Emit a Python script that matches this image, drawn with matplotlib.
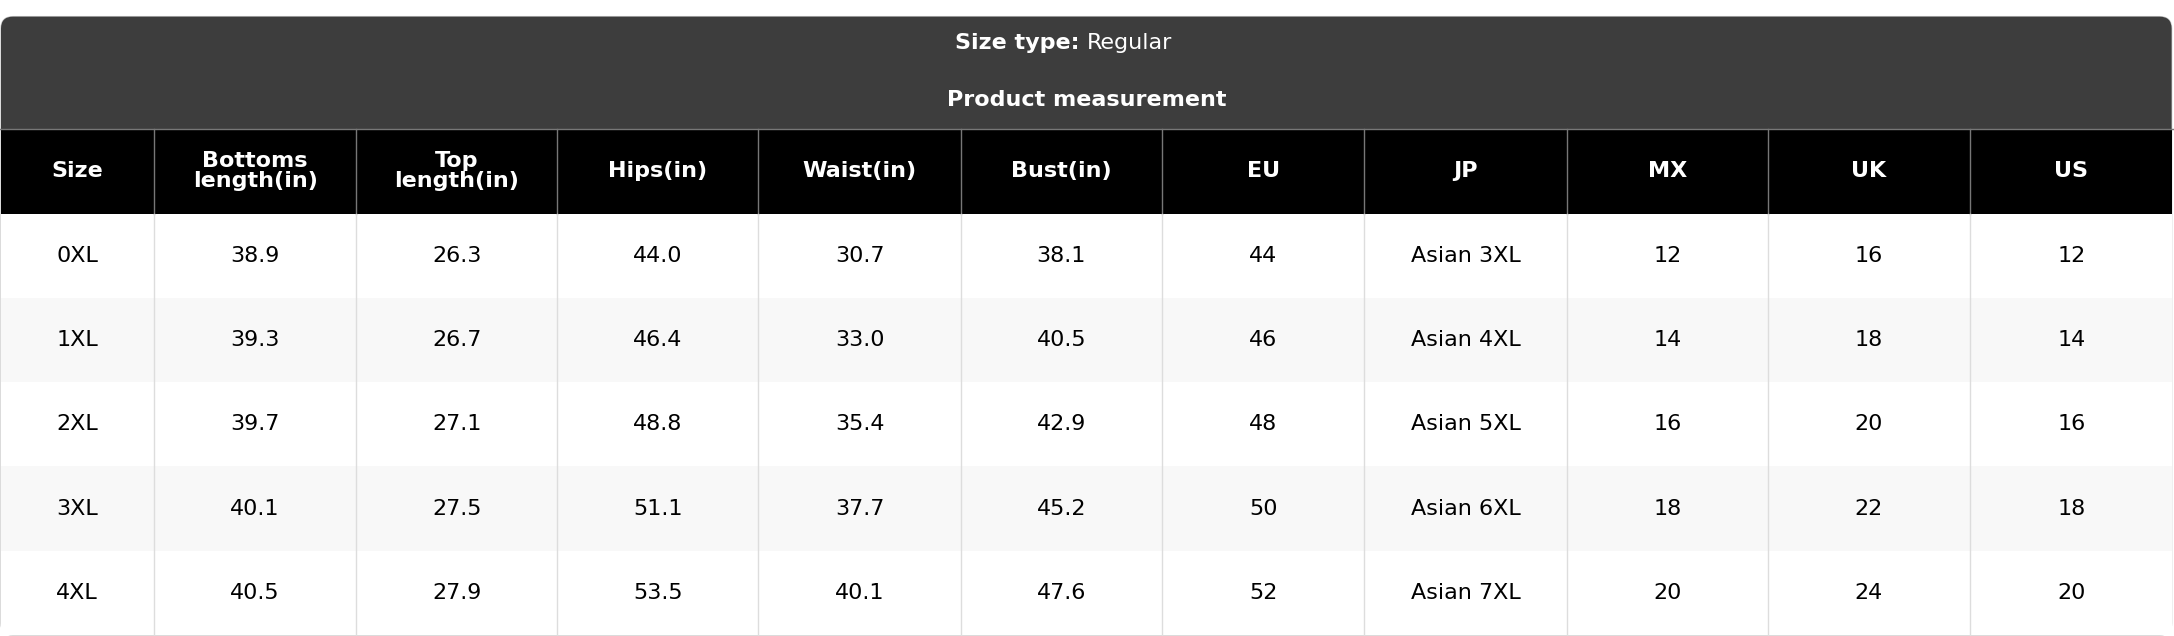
import matplotlib
matplotlib.use("Agg")
import matplotlib.pyplot as plt
from matplotlib.patches import FancyBboxPatch, Rectangle

columns = ["Size", "Bottoms\nlength(in)", "Top\nlength(in)", "Hips(in)", "Waist(in)", "Bust(in)", "EU", "JP", "MX", "UK", "US"]
sizes = ["0XL", "1XL", "2XL", "3XL", "4XL"]
bottoms = ["38.9", "39.3", "39.7", "40.1", "40.5"]
top = ["26.3", "26.7", "27.1", "27.5", "27.9"]
hips = ["44.0", "46.4", "48.8", "51.1", "53.5"]
waist = ["30.7", "33.0", "35.4", "37.7", "40.1"]
bust = ["38.1", "40.5", "42.9", "45.2", "47.6"]
eu = ["44", "46", "48", "50", "52"]
jp = ["Asian 3XL", "Asian 4XL", "Asian 5XL", "Asian 6XL", "Asian 7XL"]
mx = ["12", "14", "16", "18", "20"]
uk = ["16", "18", "20", "22", "24"]
us = ["12", "14", "16", "18", "20"]

W, H = 2174, 636
fig = plt.figure(figsize=(W/100, H/100), dpi=100)
ax = fig.add_axes([0, 0, 1, 1])
ax.set_xlim(0, W); ax.set_ylim(H, 0); ax.axis("off")
s = W/1568
xb = [v*s for v in [0, 111, 257, 402, 547, 693, 838, 984, 1130, 1275, 1421, 1567]]
top_y, hdr_y, col_y, bot_y = 12*s, 93*s, 154*s, 458*s
rh = (bot_y-col_y)/5

# outer rounded box
ax.add_patch(FancyBboxPatch((xb[0]+1, top_y), xb[-1]-xb[0]-2, bot_y-top_y,
             boxstyle="round,pad=0,rounding_size=12", fc="white", ec="#cccccc", lw=1, zorder=0))
ax.add_patch(FancyBboxPatch((xb[0]+1, top_y), xb[-1]-xb[0]-2, hdr_y-top_y+15,
             boxstyle="round,pad=0,rounding_size=12", fc="#3d3d3d", ec="none", zorder=1))
ax.add_patch(Rectangle((xb[0]+1, hdr_y), xb[-1]-xb[0]-2, col_y-hdr_y, fc="black", ec="none", zorder=2))
for i in range(5):
    fc = "white" if i % 2 == 0 else "#f8f8f8"
    ax.add_patch(Rectangle((xb[0]+1, col_y+i*rh), xb[-1]-xb[0]-2, rh, fc=fc, ec="none", zorder=2))
for x in xb[1:-1]:
    ax.plot([x, x], [hdr_y, col_y], color="#777777", lw=1, zorder=3)
    ax.plot([x, x], [col_y, bot_y], color="#dddddd", lw=1, zorder=3)
ax.plot([0, W], [hdr_y, hdr_y], color="#777777", lw=1, zorder=3)

cx = W/2
ax.text(cx, 31*s, "Size type: ", ha="right", va="center", color="white", fontsize=16, fontweight="bold", zorder=4)
ax.text(cx, 31*s, "Regular", ha="left", va="center", color="white", fontsize=16, zorder=4)
ax.text(cx, 72*s, "Product measurement", ha="center", va="center", color="white", fontsize=16, fontweight="bold", zorder=4)

centers = [(xb[i]+xb[i+1])/2 for i in range(11)]
for c, lab in zip(centers, columns):
    ax.text(c, (hdr_y+col_y)/2, lab, ha="center", va="center", color="white", fontsize=16,
            fontweight="bold", linespacing=1.0, zorder=4)
data = [sizes, bottoms, top, hips, waist, bust, eu, jp, mx, uk, us]
for j, col in enumerate(data):
    for i, v in enumerate(col):
        ax.text(centers[j], col_y+(i+0.5)*rh, v, ha="center", va="center", color="black", fontsize=16, zorder=4)

fig.savefig("out.png", dpi=100)
